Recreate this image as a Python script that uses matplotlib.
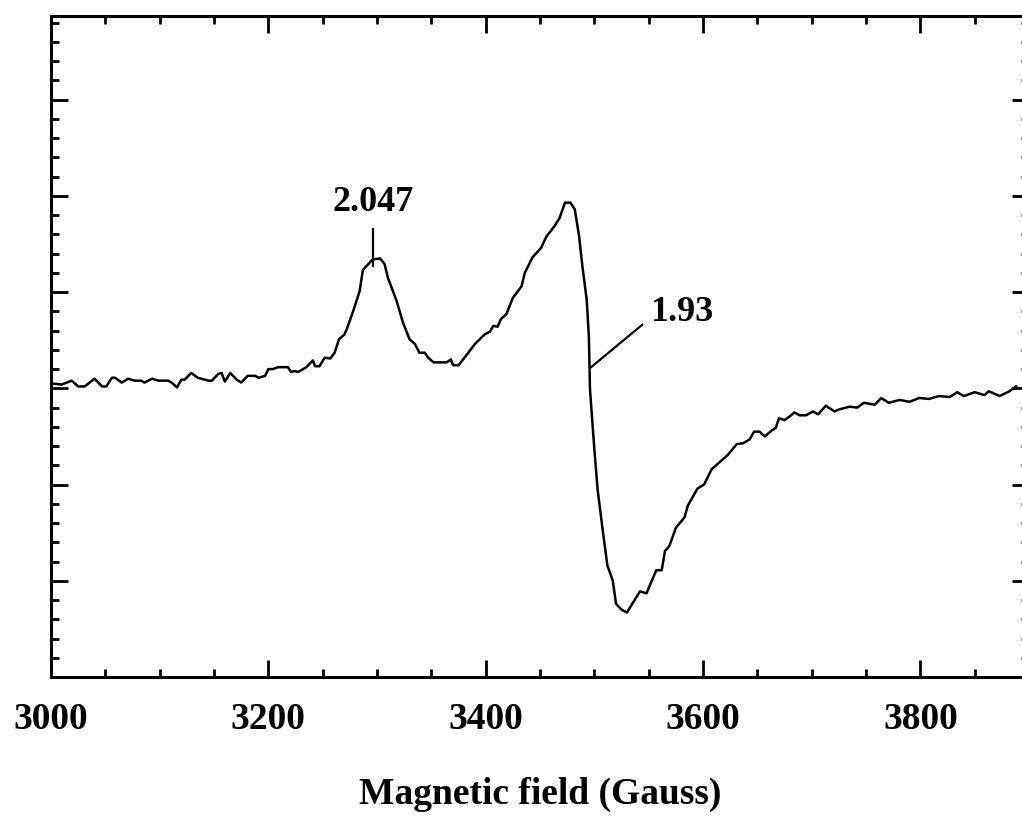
import matplotlib
matplotlib.use("Agg")
import matplotlib.pyplot as plt
from matplotlib.ticker import MultipleLocator, NullFormatter

# EPR spectrum, field in Gauss, intensity in arbitrary units
field = [3001, 3010, 3019, 3025, 3031, 3040, 3047, 3051, 3056, 3059, 3065, 3071,
         3077, 3083, 3086, 3093, 3099, 3108, 3111, 3116, 3120, 3123, 3129, 3135,
         3145, 3148, 3154, 3157, 3160, 3165, 3171, 3175, 3181, 3188, 3191, 3197,
         3200, 3204, 3209, 3218, 3221, 3224, 3227, 3229, 3235, 3241, 3243, 3247,
         3252, 3257, 3261, 3265, 3270, 3272, 3278, 3284, 3287, 3296, 3303, 3307,
         3310, 3318, 3324, 3330, 3335, 3339, 3344, 3347, 3352, 3364, 3368, 3370,
         3375, 3382, 3390, 3399, 3404, 3407, 3411, 3414, 3419, 3425, 3433, 3436,
         3443, 3451, 3456, 3463, 3468, 3473, 3478, 3482, 3486, 3489, 3493, 3495,
         3496, 3500, 3503, 3508, 3512, 3517, 3520, 3525, 3530, 3542, 3548, 3557,
         3562, 3565, 3569, 3575, 3583, 3586, 3595, 3601, 3608, 3615, 3623, 3631,
         3637, 3643, 3647, 3652, 3657, 3663, 3667, 3670, 3675, 3680, 3684, 3689,
         3695, 3701, 3706, 3713, 3721, 3725, 3735, 3742, 3748, 3758, 3764, 3771,
         3781, 3790, 3799, 3808, 3817, 3827, 3834, 3840, 3850, 3859, 3863, 3873,
         3882, 3888]
signal = [0.05, 0.04, 0.08, 0.02, 0.02, 0.10, 0.02, 0.02, 0.11, 0.11, 0.06, 0.10,
          0.08, 0.08, 0.06, 0.10, 0.08, 0.08, 0.06, 0.01, 0.09, 0.09, 0.16, 0.11,
          0.08, 0.08, 0.15, 0.16, 0.07, 0.16, 0.09, 0.06, 0.13, 0.13, 0.11, 0.13,
          0.20, 0.20, 0.22, 0.22, 0.17, 0.18, 0.17, 0.18, 0.22, 0.29, 0.23, 0.23,
          0.32, 0.31, 0.37, 0.51, 0.56, 0.61, 0.80, 1.01, 1.23, 1.34, 1.35, 1.29,
          1.15, 0.91, 0.68, 0.51, 0.46, 0.37, 0.37, 0.32, 0.27, 0.27, 0.30, 0.24,
          0.24, 0.34, 0.46, 0.56, 0.59, 0.65, 0.64, 0.72, 0.77, 0.94, 1.06, 1.20,
          1.36, 1.46, 1.58, 1.68, 1.77, 1.93, 1.93, 1.86, 1.58, 1.27, 0.92, 0.53,
          -0.01, -0.63, -1.05, -1.50, -1.84, -2.00, -2.24, -2.30, -2.33, -2.11, -2.13, -1.89,
          -1.89, -1.69, -1.64, -1.45, -1.34, -1.22, -1.04, -1.00, -0.84, -0.77, -0.69, -0.58,
          -0.57, -0.53, -0.45, -0.45, -0.50, -0.44, -0.41, -0.31, -0.33, -0.29, -0.25, -0.28,
          -0.28, -0.24, -0.27, -0.18, -0.24, -0.22, -0.19, -0.20, -0.15, -0.17, -0.10, -0.15,
          -0.12, -0.14, -0.10, -0.11, -0.08, -0.09, -0.04, -0.08, -0.04, -0.07, -0.03, -0.08,
          -0.03, 0.02]

# g-value labels: text, text position, leader line start/end
g_labels = ["2.047", "1.93"]
g_text_pos = [(3296, 1.93), (3551, 0.79)]
g_leaders = [((3296, 1.66), (3296, 1.27)), ((3544, 0.66), (3497, 0.22))]

plt.rcParams["font.family"] = ["Liberation Serif", "DejaVu Serif"]
plt.rcParams["font.weight"] = "bold"

fig = plt.figure(figsize=(10.22, 8.18), dpi=100)
ax = fig.add_axes([51 / 1022, 1 - 677 / 818, 978 / 1022, 661 / 818])

ax.plot(field, signal, color="black", lw=1.8, solid_joinstyle="round")

for lab, (tx, ty), (p0, p1) in zip(g_labels, g_text_pos, g_leaders):
    ax.plot([p0[0], p1[0]], [p0[1], p1[1]], color="black", lw=1.6)
    ha = "center" if lab == "2.047" else "left"
    ax.text(tx, ty, lab, ha=ha, va="center", fontsize=26, fontweight="bold")

ax.set_xlim(3000, 3900)
ax.set_ylim(-3, 3.87)
ax.xaxis.set_major_locator(MultipleLocator(200))
ax.xaxis.set_minor_locator(MultipleLocator(50))
ax.yaxis.set_major_locator(MultipleLocator(1))
ax.yaxis.set_minor_locator(MultipleLocator(0.2))
ax.yaxis.set_major_formatter(NullFormatter())

ax.tick_params(which="both", direction="in", top=True, right=True, width=2)
ax.tick_params(which="major", length=12)
ax.tick_params(which="minor", length=6)
ax.tick_params(axis="x", which="major", labelsize=27, pad=18)
for s in ax.spines.values():
    s.set_linewidth(2.2)

ax.set_xlabel("Magnetic field (Gauss)", fontsize=27, fontweight="bold", labelpad=29)

fig.savefig("out.png", dpi=100)
